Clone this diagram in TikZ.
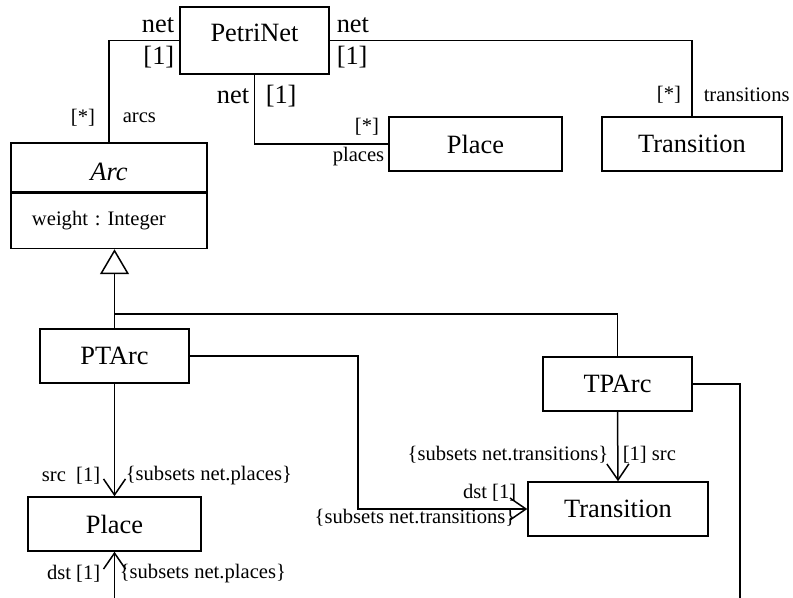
\documentclass[tikz,border=0pt]{standalone}
\usepackage{fontspec}
\setmainfont{Liberation Serif}
\usetikzlibrary{arrows.meta}
\frenchspacing

\begin{document}
\begin{tikzpicture}[x=0.5pt,y=-0.5pt,line width=0.75pt,
  cls/.style={draw,inner sep=0pt,minimum height=27pt,font=\fontsize{13.2}{15}\selectfont},
  lbl/.style={inner sep=0pt,font=\fontsize{10.3}{12}\selectfont},
  biglbl/.style={inner sep=0pt,font=\fontsize{13.2}{15}\selectfont},
  gen/.style={-{Triangle[open,width=14.5pt,length=12.5pt]}},
  nav/.style={-{Straight Barb[width=11pt,length=8pt]}}]
\useasboundingbox (0,0) rectangle (793,598);
\node[cls,minimum width=74.5pt,minimum height=33.5pt,text depth=7.5pt] (petrinet) at (254.5,40.5) {PetriNet};
\node[cls,minimum width=98pt,minimum height=24.5pt,text height=13.2pt] (arc) at (109,167.5) {\textit{Arc}};
\node[cls,anchor=north,minimum height=27.5pt,inner xsep=10.5pt,text width=77pt,align=left,font=\fontsize{10.3}{12}\selectfont] (arcattr) at (arc.south) {weight : Integer};
\node[cls,minimum width=86.5pt] (netplace) at (475.5,144) {Place};
\node[cls,minimum width=90pt] (nettrans) at (692,144) {Transition};
\node[cls,minimum width=74.5pt] (ptarc) at (114.5,356) {PTArc};
\node[cls,minimum width=74.5pt] (tparc) at (617.5,384) {TPArc};
\node[cls,minimum width=90pt] (dsttrans) at (618,509) {Transition};
\node[cls,minimum width=86.5pt] (srcplace) at (114.5,524) {Place};
\coordinate (genjoin) at (114.5,314);
\coordinate (ptbend) at (358,356);
\coordinate (tpout) at (740,598);
\coordinate (ptin) at (114.5,598);
\draw (petrinet.west) -| (arc.north);
\draw (petrinet.east) -| (nettrans.north);
\draw (petrinet.south) |- (netplace.west);
\draw[gen] (ptarc.north) -- (ptarc.north |- arcattr.south);
\draw (tparc.north) |- (genjoin);
\draw[nav] (ptarc.south) -- (srcplace.north);
\draw[nav] (ptarc.east) -- (ptbend) |- (dsttrans.west);
\draw[nav] (tparc.south) -- (dsttrans.north);
\draw (tparc.east) -| (tpout);
\draw[nav] (ptin) -- (srcplace.south);
\node[biglbl,anchor=east] (n1) at (175,25) {net};
\node[biglbl,anchor=east] (m1) at (175,57) {[1]};
\node[biglbl,anchor=west] (n2) at (336,25) {net};
\node[biglbl,anchor=west] (m2) at (336,57) {[1]};
\node[biglbl,anchor=east] (n3) at (250,96) {net};
\node[biglbl,anchor=west] (m3) at (265,96) {[1]};
\node[lbl] (marcs) at (83,118) {[*]};
\node[lbl,anchor=west] (rarcs) at (122,118) {arcs};
\node[lbl] (mplaces) at (367,127) {[*]};
\node[lbl,anchor=east] (rplaces) at (385,157) {places};
\node[lbl] (mtrans) at (669,95) {[*]};
\node[lbl,anchor=west] (rtrans) at (703,95) {transitions};
\node[lbl,anchor=east] (srcrole) at (101,476) {src\ \ [1]};
\node[lbl,anchor=west] (srccon) at (125,476) {\{subsets net.places\}};
\node[lbl,anchor=east] (dstrole) at (101,574) {dst [1]};
\node[lbl,anchor=west] (dstcon) at (119,574) {\{subsets net.places\}};
\node[lbl,anchor=east] (tsrccon) at (609,455) {\{subsets net.transitions\}};
\node[lbl,anchor=west] (tsrcrole) at (622,455) {[1] src};
\node[lbl,anchor=east] (tdstrole) at (517,493) {dst [1]};
\node[lbl,anchor=east] (tdstcon) at (516,518) {\{subsets net.transitions\}};
\end{tikzpicture}
\end{document}
